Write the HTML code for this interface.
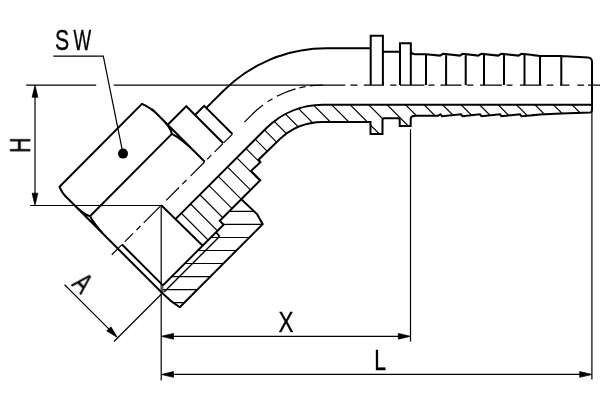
<!DOCTYPE html>
<html lang="en"><head><meta charset="utf-8"><title>Drawing</title>
<style>html,body{margin:0;padding:0;background:#fff}body{width:600px;height:400px;overflow:hidden}svg{display:block}</style>
</head><body>
<svg width="600" height="400" viewBox="0 0 600 400">
<rect width="600" height="400" fill="#fff"/>
<defs>
<clipPath id="cn"><path d="M175.45,219.15 L266.25,128.25 A80.25,80.25 0 0 1 323,104.75 H592 V110.3 Q592,112.3 590,112.4 L561,113.6 L540,114.7 L521.5,116.2 L520,114.3 L501.5,116.2 L500,114.3 L481.5,116.2 L480,114.3 L462.5,116.2 L461,114.3 L442,116.2 L440.5,114.4 L438,115.8 H416 Q410.7,115.8 410.7,119 V126.1 H399.7 V119.7 Q399.7,118.2 398.2,118.2 H384 Q382.5,118.2 382.5,119.7 V133.9 H370.5 V121.9 H323 A63.1,63.1 0 0 0 278.4,140.4 L258.6,159.7 L260.4,162.2 L251,171 L260.3,180.3 L219.75,220.75 L223.25,224.25 L202.25,245.25 Z"/></clipPath>
<clipPath id="cu"><path d="M241.3,199.3 L257,214 L262.7,224.2 L179.75,307.25 Q170.5,301.5 163,293.8 L162.9,285.4 L223.6,224.7 L219.75,220.75 Z"/></clipPath>
</defs>
<g font-family="'Liberation Sans', sans-serif" fill="#000" stroke="#000" stroke-width="0.4" stroke-linejoin="round" font-size="29.6" opacity="0.999">
<text y="49.9"><tspan x="55.0" textLength="14.2" lengthAdjust="spacingAndGlyphs">S</tspan><tspan x="73.6" textLength="17.6" lengthAdjust="spacingAndGlyphs">W</tspan></text>
<text transform="translate(30.2,145.2) rotate(-90) scale(0.72,1)" text-anchor="middle">H</text>
<text transform="translate(285.9,331.7) scale(0.76,1)" text-anchor="middle">X</text>
<text transform="translate(380.3,370.3) scale(0.72,1)" text-anchor="middle">L</text>
<text transform="translate(76,290) rotate(45) scale(0.72,1)" text-anchor="middle">A</text>
</g>
<g fill="none" stroke="#000" stroke-width="1.2" clip-path="url(#cn)">
<path d="M26.1,95 L191.1,260 M44.6,95 L209.6,260 M63.1,95 L228.1,260 M81.6,95 L246.6,260 M100.1,95 L265.1,260 M118.5,95 L283.5,260 M137.0,95 L302.0,260 M155.5,95 L320.5,260 M174.0,95 L339.0,260 M192.5,95 L357.5,260 M211.0,95 L376.0,260 M229.5,95 L394.5,260 M247.9,95 L412.9,260 M266.4,95 L431.4,260 M284.9,95 L449.9,260 M303.4,95 L468.4,260 M321.9,95 L486.9,260 M340.4,95 L505.4,260 M358.9,95 L523.9,260 M377.3,95 L542.3,260 M395.8,95 L560.8,260 M414.3,95 L579.3,260 M432.8,95 L597.8,260 M451.3,95 L616.3,260 M469.8,95 L634.8,260 M488.3,95 L653.3,260 M506.7,95 L671.7,260 M525.2,95 L690.2,260 M543.7,95 L708.7,260 M562.2,95 L727.2,260 M580.7,95 L745.7,260"/>
</g>
<g fill="none" stroke="#000" stroke-width="1.2" clip-path="url(#cu)">
<path d="M150,211.4 H270 M150,224.4 H270 M150,237.5 H270 M150,250.5 H270 M150,263.5 H270 M150,276.6 H270 M150,289.6 H270 M150,302.6 H270 M150,315.6 H270"/>
</g>
<path fill="none" stroke="#000" stroke-width="1.2" d="M26.2,85.15 H96.2 M113.7,85.15 H345.3 M30,205.5 H161.3 M35,90 V200 M53.3,56.2 H103.3 L123,153.6 M161.2,205 V380.4 M410.5,129.2 V341.5 M591.9,112 V379.5 M166,336.35 H405 M166,374.45 H587 M64.6,284.75 L113,333.1 M161,294.5 L114,341.5"/>
<path fill="#000" stroke="#000" stroke-width="0.7" stroke-linejoin="miter" d="M35.00,85.00 L37.90,97.30 L32.10,97.30 Z M35.00,205.50 L32.10,193.20 L37.90,193.20 Z M161.20,336.30 L173.50,333.40 L173.50,339.20 Z M410.60,336.30 L398.30,339.20 L398.30,333.40 Z M161.20,374.45 L173.50,371.55 L173.50,377.35 Z M592.00,374.45 L579.70,377.35 L579.70,371.55 Z M117.50,337.60 L106.75,330.95 L110.85,326.85 Z"/>
<circle cx="123" cy="153.6" r="5" fill="#000"/>
<path fill="none" stroke="#000" stroke-width="1.2" d="M363.8,85.15 H384 M400,85.15 H424.5 M440.5,85.15 H461.5 M480,85.15 H502 M520,85.15 H541.5 M560,85.15 H569.5 M588,85.15 H600 M350.5,85.15 H357.5 M390.2,85.15 H396.5 M428.5,85.15 H434.5 M466.7,85.15 H473.3 M506.7,85.15 H512.5 M546.7,85.15 H553.3 M577.3,85.15 H584 M111.75,254.75 L121.9,244.60 M124.8,241.70 L133.1,233.40 M136.5,230.00 L140.5,226.00 M143.7,222.80 L160.3,206.20 M166.2,200.30 L179,187.50 M182.3,184.20 L186.5,180.00 M190.7,175.80 L204.5,162.00 M207.2,159.30 L211.3,155.20 M214.6,151.90 L222.5,144.00 M223.6,142.90 L232.4,134.10 M244.4,122.10 L252.2,114.30 M252.2,114.30 A100,100 0 0 1 263.00,105.00 M267.50,101.81 A100,100 0 0 1 272.50,98.69 M277.00,96.21 A100,100 0 0 1 295.50,88.86 M299.50,87.80 A100,100 0 0 1 305.50,86.54 M310.00,85.85 A100,100 0 0 1 323.00,85.00"/>
<path fill="none" stroke="#000" stroke-width="1.4" d="M219.5,236.5 L164,292"/>
<path fill="none" stroke="#555" stroke-width="2.2" d="M162.3,285 V293.5"/>
<path fill="none" stroke="#000" stroke-width="2" stroke-linecap="butt" stroke-linejoin="miter" stroke-miterlimit="2" d="M206.3,107.9 L223.5,90.8 A145,145 0 0 1 326,48.3 H370.7 V35.8 H382.9 V50.2 Q382.9,51.75 384.5,51.75 H398.4 Q400,51.75 400,50.2 V43.3 H410.8 V50.5 Q410.8,54.2 415.5,54.2 H426 L440,55.6 L443,53.8 L459.8,55.6 L462.8,53.8 L478.3,55.6 L481.3,53.8 L498.2,55.6 L501.2,53.8 L518.5,55.6 L521.5,53.8 L540,55.9 H561.3 L588,57.6 Q592,57.9 592,62 V110.3 Q592,112.3 590,112.4 M426,55 V85 M446.1,55 V85 M465.7,55 V85 M484,55 V85 M504,55 V85 M524.5,55 V85 M540,55 V85 M561.3,55 V85 M370.7,48 V85 M382.9,50 V85 M400,50 V85 M410.8,50 V85 M175.45,219.15 L266.25,128.25 A80.25,80.25 0 0 1 323,104.75 H592 M590,112.4 L561,113.6 L540,114.6 L521.5,116.2 L520,114.3 L501.5,116.2 L500,114.3 L481.5,116.2 L480,114.3 L462.5,116.2 L461,114.3 L442,116.2 L440.5,114.4 L438,115.8 H416 Q410.7,115.8 410.7,119 V126.1 H399.7 V119.7 Q399.7,118.2 398.2,118.2 H384 Q382.5,118.2 382.5,119.7 V133.9 H370.5 V121.9 H323 A63.1,63.1 0 0 0 278.4,140.4 L258.6,159.7 L260.4,162.2 L251,171 L260.3,180.3 L219.75,220.75 L223.6,224.7 L162.9,285.4 M161.25,205.25 L202.25,245.25 M241.3,199.3 L257,214 L262.7,224.2 L179.75,307.25 M215.75,231.75 L219.5,236.5 M122,244.5 L162.9,285.4 M68,198.8 L163,293.8 Q170.5,301.5 179.75,307.25 M74,204.8 Q84,214.8 90,216.2 Q94,223.5 104,234.8 M90,216.2 L171.9,133.9 M68,198.8 Q62.5,194 59.5,186.8 L142,103.9 Q150,107 159.25,116.25 Q171,127.5 171.9,133.9 Q181,138.5 195,152 M152,109 L204.75,161.75 M167.75,124.75 L186.25,106.25 L223.25,143.25 M195,115 L204.2,105.8 L232.4,134"/>
</svg>
</body></html>
